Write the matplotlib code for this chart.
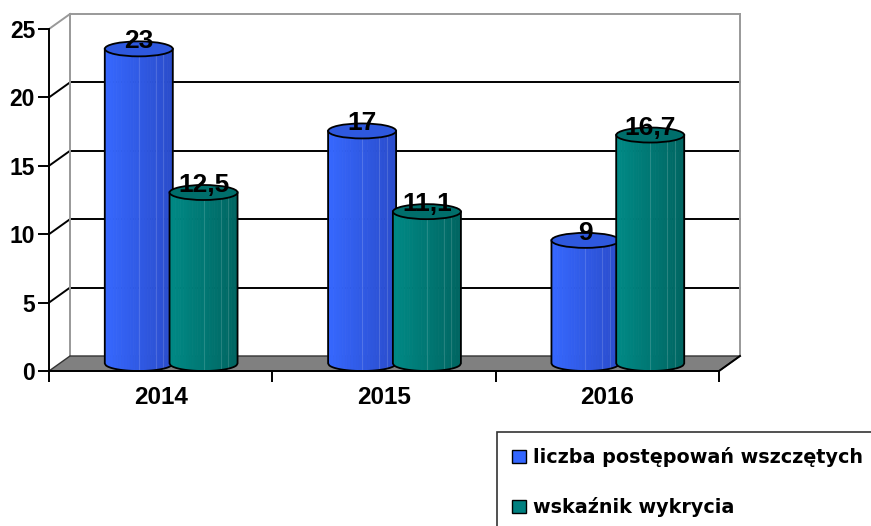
import numpy as np
import matplotlib
matplotlib.use("Agg")
import matplotlib.pyplot as plt
from matplotlib import font_manager as fm
from matplotlib.patches import Polygon, Ellipse, Patch
from matplotlib.colors import to_rgb

# pick the regular-width Liberation Sans Bold file explicitly (not the Narrow variant)
bold_file = None
for f in fm.findSystemFonts():
    name = f.split('/')[-1]
    if name == 'LiberationSans-Bold.ttf':
        bold_file = f
        break
if bold_file:
    fm.fontManager.addfont(bold_file)
    BFAM = fm.FontProperties(fname=bold_file).get_name()
else:
    BFAM = 'DejaVu Sans'
plt.rcParams['font.family'] = [BFAM, 'DejaVu Sans']


def bprop(size):
    if bold_file:
        return fm.FontProperties(fname=bold_file, size=size)
    return fm.FontProperties(family='DejaVu Sans', weight='bold', size=size)


# ---- data ----
years = ["2014", "2015", "2016"]
series_names = ["liczba postępowań wszczętych", "wskaźnik wykrycia"]
liczba = [23, 17, 9]
wskaznik = [12.5, 11.1, 16.7]
value_labels_liczba = ["23", "17", "9"]
value_labels_wskaznik = ["12,5", "11,1", "16,7"]
yticks = [0, 5, 10, 15, 20, 25]

W, H = 871, 526
fig = plt.figure(figsize=(W / 100, H / 100), dpi=100)
fig.patch.set_facecolor('white')

# front plane of the 3D box
x0p, x1p, y0p, y1p = 49, 719, 371, 29
ax = fig.add_axes([x0p / W, (H - y0p) / H, (x1p - x0p) / W, (y0p - y1p) / H])
ax.set_xlim(0, 3)
ax.set_ylim(0, 25)
ax.patch.set_visible(False)

sx = 3 / (x1p - x0p)
sy = 25 / (y0p - y1p)
DX = 21 * sx
DY = 15 * sy

# back wall gridlines / edges
for t in yticks:
    col = '#999999' if t == 25 else 'black'
    if t > 0:
        ax.plot([DX, 3 + DX], [t + DY, t + DY], color=col, lw=1.4, clip_on=False, zorder=1)
        ax.plot([0, DX], [t, t + DY], color=col, lw=1.4, clip_on=False, zorder=1)
ax.plot([DX, DX], [DY, 25 + DY], color='#999999', lw=1.4, clip_on=False, zorder=1)
ax.plot([3 + DX, 3 + DX], [DY, 25 + DY], color='#999999', lw=1.4, clip_on=False, zorder=1)

# floor
floor = Polygon([[0, 0], [3, 0], [3 + DX, DY], [DX, DY]], closed=True,
                facecolor='#808080', edgecolor='#333333', lw=1.0, clip_on=False, zorder=2)
ax.add_patch(floor)


def mix(c1, c2, f):
    a, b = np.array(to_rgb(c1)), np.array(to_rgb(c2))
    return tuple(a + (b - a) * f)


def cylinder(cx, base, top, w, eh, cleft, cright, ctop, z):
    n = 24
    xs = np.linspace(-1, 1, n + 1)
    for i in range(n):
        xa, xb = xs[i], xs[i + 1]
        pts = [[cx + xa * w / 2, base - eh / 2 * np.sqrt(max(0, 1 - xa ** 2))],
               [cx + xb * w / 2, base - eh / 2 * np.sqrt(max(0, 1 - xb ** 2))],
               [cx + xb * w / 2, top], [cx + xa * w / 2, top]]
        f = (i + 0.5) / n
        c = mix(cleft, cright, f)
        ax.add_patch(Polygon(pts, closed=True, facecolor=c,
                             edgecolor=c, lw=0.6, clip_on=False, zorder=z))
    for fx in [0.0, 0.5, 0.72]:
        ax.plot([cx + fx * w / 2] * 2, [base - eh / 2 * np.sqrt(1 - fx ** 2), top],
                color='white', alpha=0.15, lw=0.8, clip_on=False, zorder=z + 0.1)
    arc = np.linspace(-1, 1, 60)
    outline = [[cx - w / 2, top]] + [[cx + a * w / 2, base - eh / 2 * np.sqrt(1 - a ** 2)] for a in arc] + [[cx + w / 2, top]]
    ax.plot([p[0] for p in outline], [p[1] for p in outline], color='black', lw=1.3,
            clip_on=False, zorder=z + 0.2)
    ax.add_patch(Ellipse((cx, top), w, eh, facecolor=ctop, edgecolor='black', lw=1.3,
                         clip_on=False, zorder=z + 0.3))


bw = 68 * sx
eh = 15 * sy
off = 0.145
base = DY / 2
z = 3
for i in range(len(years)):
    c = i + 0.5 + DX / 2
    cylinder(c - off, base, base + liczba[i], bw, eh, '#3668FF', '#2A4CCB', '#2E58DE', z)
    z += 1
    cylinder(c + off, base, base + wskaznik[i], bw, eh, '#008A86', '#006561', '#006E6B', z)
    z += 1
    ax.text(c - off, base + liczba[i] + 0.55, value_labels_liczba[i], ha='center', va='center',
            fontproperties=bprop(19), zorder=20)
    ax.text(c + off, base + wskaznik[i] + 0.55, value_labels_wskaznik[i], ha='center', va='center',
            fontproperties=bprop(19), zorder=20)

# front axes
for s in ['top', 'right']:
    ax.spines[s].set_visible(False)
ax.spines['left'].set_linewidth(1.4)
ax.spines['bottom'].set_linewidth(1.4)
ax.spines['left'].set_zorder(30)
ax.spines['bottom'].set_zorder(30)
ax.set_yticks(yticks)
ax.set_yticklabels([str(t) for t in yticks], fontproperties=bprop(16.5))
ax.tick_params(axis='y', direction='out', length=8, width=1.4, pad=2)
ax.set_xticks([0, 1, 2, 3])
ax.set_xticklabels([])
ax.tick_params(axis='x', which='major', direction='out', length=8, width=1.4)
ax.set_xticks([0.5, 1.5, 2.5], minor=True)
ax.set_xticklabels(years, minor=True, fontproperties=bprop(17.5))
ax.tick_params(axis='x', which='minor', length=0, pad=11)
# right floor edge
ax.plot([3, 3 + DX], [0, DY], color='black', lw=1.4, clip_on=False, zorder=30)

handles = [Patch(facecolor='#3366FF', edgecolor='black', label=series_names[0]),
           Patch(facecolor='#008080', edgecolor='black', label=series_names[1])]
leg = fig.legend(handles=handles, loc='upper left', bbox_to_anchor=(497 / W, 1 - 432 / H),
                 frameon=True, fancybox=False, edgecolor='black',
                 prop={'family': 'DejaVu Sans', 'weight': 'bold', 'size': 13.8},
                 handlelength=0.7, handleheight=0.7,
                 handletextpad=0.4, labelspacing=1.55, borderpad=0.8, borderaxespad=0)
leg.get_frame().set_linewidth(1.2)

fig.savefig('out.png', dpi=100)
